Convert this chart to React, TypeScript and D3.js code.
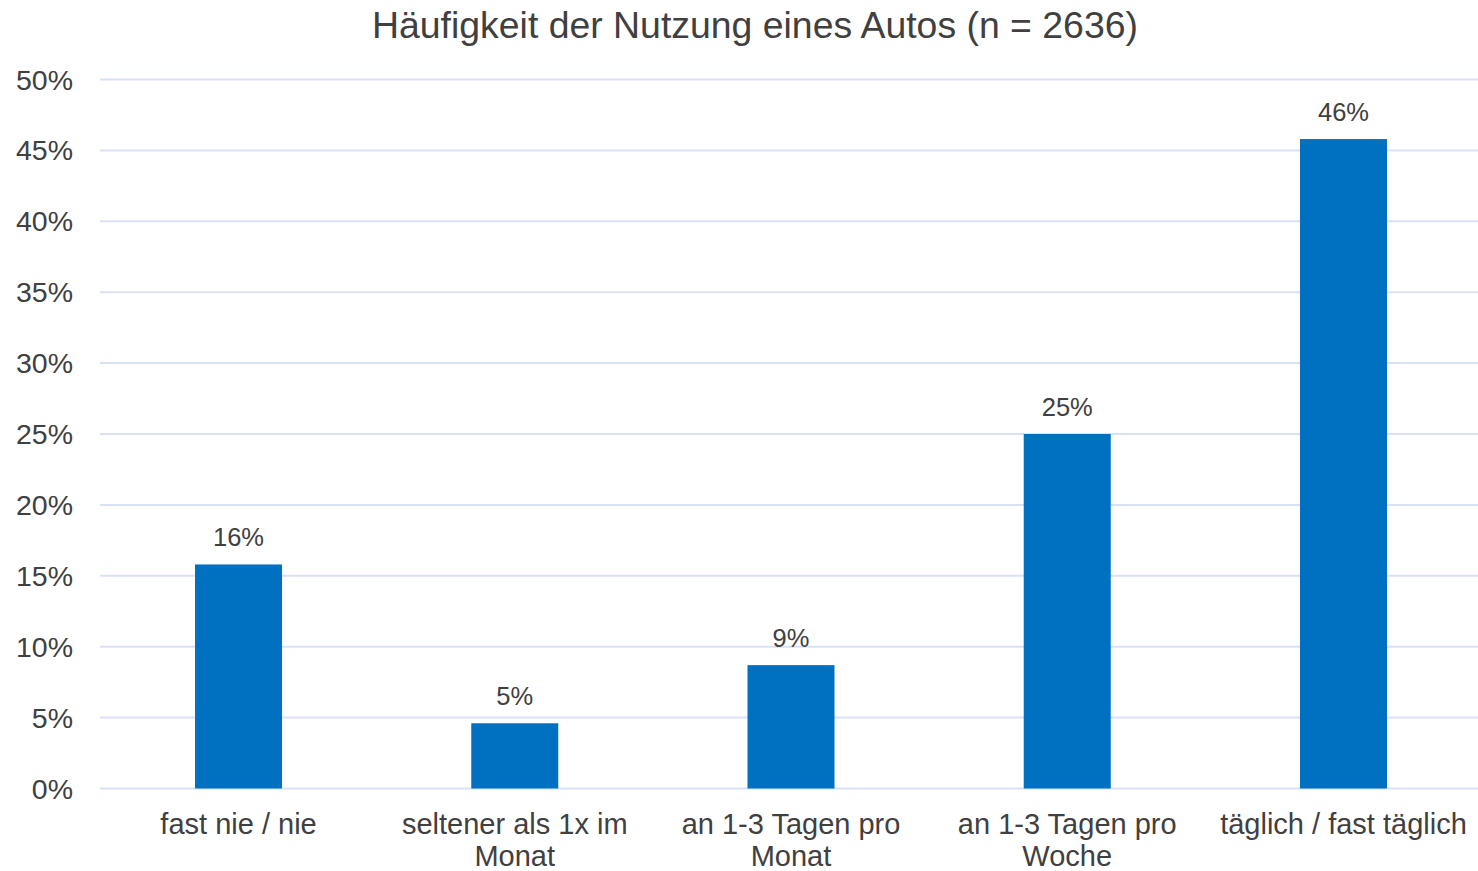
import React from "react";
import * as d3 from "d3";

const title = "Häufigkeit der Nutzung eines Autos (n = 2636)";
const categories: string[][] = [
  ["fast nie / nie"],
  ["seltener als 1x im", "Monat"],
  ["an 1-3 Tagen pro", "Monat"],
  ["an 1-3 Tagen pro", "Woche"],
  ["täglich / fast täglich"],
];
const values = [15.8, 4.6, 8.7, 25.0, 45.8];
const labels = ["16%", "5%", "9%", "25%", "46%"];
const yTicks = [0, 5, 10, 15, 20, 25, 30, 35, 40, 45, 50];

export default function App() {
  const W = 1478, H = 871;
  const left = 100.4, right = 1481.6, top = 79.5, bottom = 788.5;
  const x = d3.scaleBand<number>().domain(d3.range(categories.length)).range([left, right]).paddingInner(0.685).paddingOuter(0.3425);
  const y = d3.scaleLinear().domain([0, 50]).range([bottom, top]);
  const font = "'Liberation Sans', Arial, sans-serif";
  const textColor = "#404040";
  return (
    <svg width={W} height={H} style={{ position: "absolute", left: 0, top: 0 }} fontFamily={font}>
      <rect width={W} height={H} fill="#fff" />
      <text x={755} y={38} textAnchor="middle" fontSize={37.4} fill={textColor}>{title}</text>
      {yTicks.map((t) => (
        <g key={t}>
          <line x1={100} x2={1478} y1={y(t)} y2={y(t)} stroke="#D9E1F7" strokeWidth={2} />
          <text x={73} y={y(t) + 10} textAnchor="end" fontSize={28.5} fill={textColor}>{t}%</text>
        </g>
      ))}
      {values.map((v, i) => {
        const bx = x(i)!;
        const bw = x.bandwidth();
        return (
          <g key={i}>
            <rect x={bx} y={y(v)} width={bw} height={y(0) - y(v)} fill="#0070C0" />
            <text x={bx + bw / 2} y={y(v) - 18} textAnchor="middle" fontSize={25.5} fill={textColor}>{labels[i]}</text>
            {categories[i].map((line, j) => (
              <text key={j} x={bx + bw / 2} y={834 + j * 32} textAnchor="middle" fontSize={29} fill={textColor}>{line}</text>
            ))}
          </g>
        );
      })}
    </svg>
  );
}
